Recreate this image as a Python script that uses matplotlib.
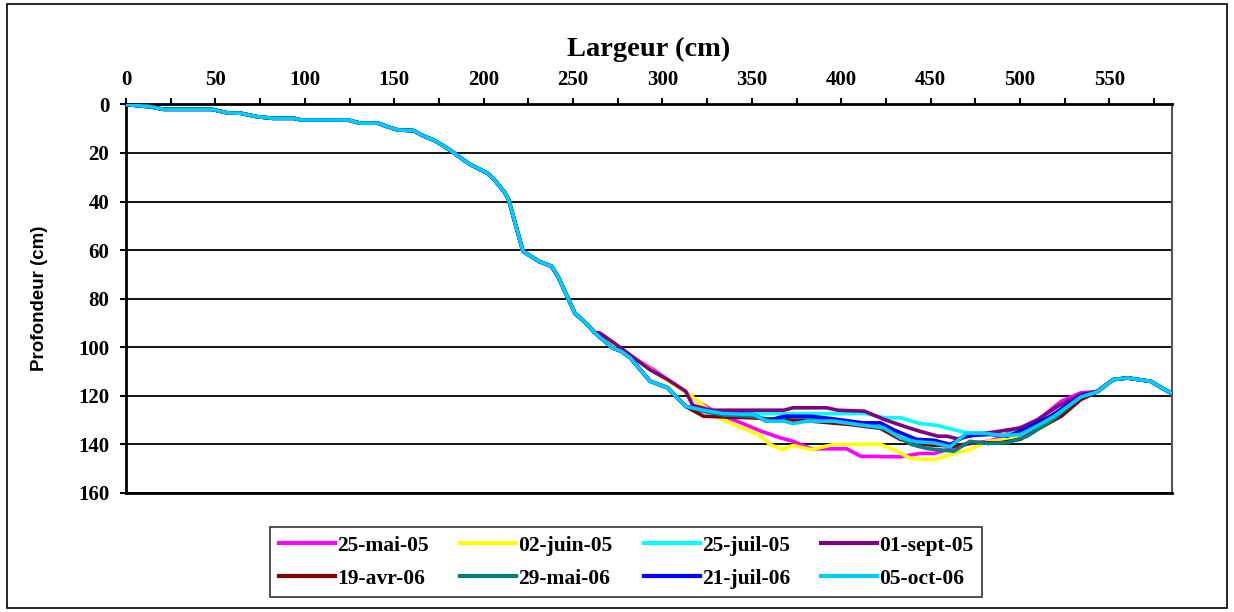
import numpy as np
import matplotlib
matplotlib.use('Agg')
import matplotlib.pyplot as plt
from matplotlib.patches import Rectangle
from matplotlib.ticker import MultipleLocator

# Profil commun (rive gauche, identique pour tous les relevés)
x_debut = [0, 14, 21, 48, 57, 64, 73, 82, 94, 98, 124, 131, 141, 146, 152, 161, 165, 173,
           181, 190, 193, 202, 206, 212, 214, 222, 231, 238, 242, 251, 258, 262]
y_debut = [0, 1, 2, 2, 3.5, 3.6, 5, 5.7, 5.7, 6.4, 6.4, 7.7, 7.7, 9.1, 10.5, 10.8, 12.5, 15,
           18.7, 23.5, 24.9, 28.3, 31, 36.5, 39.3, 60.5, 64.7, 66.7, 71.5, 86, 90.7, 94]

# Profil commun (rive droite)
x_fin = [552, 560, 573, 584]
y_fin = [113.4, 112.7, 114.1, 118.8]

# Partie centrale de chaque relevé
x_25mai05 = [266, 273, 284, 295, 303, 313, 321, 332, 344, 355, 366, 373, 383, 403, 411, 433,
             444, 452, 463, 472, 482, 489, 496, 502, 508, 523, 534, 543]
y_25mai05 = [95, 99, 104.5, 109.3, 113.5, 118.5, 123, 127.8, 131.2, 134.6, 137.4, 138.8, 141.9,
             141.9, 145, 145.2, 143.8, 143.8, 141.5, 139.7, 138.8, 137.4, 134, 133, 131.2, 122.3,
             118.8, 118.5]

x_02juin05 = [266, 273, 284, 295, 303, 315, 321, 331, 340, 349, 355, 360, 367, 373, 383, 396,
              422, 429, 439, 452, 463, 472, 482, 493, 504, 515, 526, 534, 543]
y_02juin05 = [95, 99, 104.5, 110, 114, 119.5, 123, 129.1, 131.9, 134.6, 136.7, 140.1, 142.2,
              140.5, 142.2, 140.1, 140.1, 142.2, 145.9, 146.3, 143.8, 142.2, 138.8, 138, 136.5,
              132, 126, 121, 118.5]

x_25juil05 = [272, 277, 282, 293, 303, 313, 323, 334, 351, 358, 414, 424, 433, 444, 454, 461,
              470, 480, 491, 502, 511, 519, 534, 543]
y_25juil05 = [100.3, 101.7, 104.4, 114, 116.8, 124.4, 126, 127, 127.4, 127.4, 127.4, 129.1,
              129.1, 131.5, 132.3, 133.7, 135.3, 135.4, 136.4, 134, 131, 127.5, 120.5, 118.5]

x_01sept05 = [265, 273, 293, 303, 313, 317, 327, 368, 373, 392, 398, 413, 424, 435, 444, 454,
              459, 465, 476, 489, 500, 510, 521, 534, 543]
y_01sept05 = [94.2, 98.3, 109.3, 113.4, 118.2, 124, 126, 126, 125, 125, 126, 126.4, 129.8,
              132.6, 134.7, 136.7, 136.7, 137.8, 136, 134.6, 133.3, 129.8, 124.4, 119.5, 118.2]

x_19avr06 = [272, 277, 282, 293, 303, 313, 323, 349, 383, 405, 422, 433, 444, 463, 474, 489,
             500, 511, 523, 534, 543]
y_19avr06 = [100.3, 101.7, 104.4, 114, 116.8, 124.4, 128.5, 129.1, 130.5, 131.9, 133.5, 138,
             140.1, 140.8, 139.4, 139.4, 138, 133.3, 128.5, 121.6, 118.5]

x_29mai06 = [272, 277, 282, 293, 303, 313, 323, 334, 351, 358, 364, 370, 383, 396, 412, 422,
             429, 439, 448, 463, 472, 482, 493, 504, 519, 534, 543]
y_29mai06 = [100.3, 101.7, 104.4, 114, 116.8, 124.4, 126.5, 128, 128.5, 129.8, 129.5, 128.5,
             129.1, 130.5, 131.9, 133, 135.3, 140.1, 141.8, 142.9, 138.8, 139.7, 139.4, 136.7,
             129.5, 120.5, 118.5]

x_21juil06 = [272, 277, 282, 293, 303, 313, 323, 334, 351, 358, 368, 383, 396, 412, 422, 429,
              442, 452, 461, 470, 483, 493, 502, 517, 534, 543]
y_21juil06 = [100.3, 101.7, 104.4, 114, 116.8, 124.4, 126, 127.4, 127.8, 130.5, 128.5, 128.5,
              129.6, 131.2, 131.2, 134, 138, 138.4, 140.1, 136.5, 136, 136.7, 134, 128.5, 120,
              118.5]

x_05oct06 = [272, 277, 282, 293, 303, 313, 323, 334, 351, 358, 368, 373, 381, 396, 409, 424,
             433, 442, 452, 461, 470, 480, 491, 500, 511, 519, 534, 543]
y_05oct06 = [100.3, 101.7, 104.4, 114, 116.8, 124.4, 126, 127.4, 127.8, 130.5, 130.5, 131.5,
             130.5, 130.5, 131.9, 133.3, 137.4, 139, 139.5, 141, 135.5, 135.5, 136.5, 136, 131.9,
             128.5, 120.5, 118.5]

dates = ['25-mai-05', '02-juin-05', '25-juil-05', '01-sept-05',
         '19-avr-06', '29-mai-06', '21-juil-06', '05-oct-06']
couleurs = ['#FF00FF', '#FFFF00', '#00FFFF', '#800080',
            '#800000', '#008080', '#0000FF', '#00CCFF']
milieux = [(x_25mai05, y_25mai05), (x_02juin05, y_02juin05), (x_25juil05, y_25juil05),
           (x_01sept05, y_01sept05), (x_19avr06, y_19avr06), (x_29mai06, y_29mai06),
           (x_21juil06, y_21juil06), (x_05oct06, y_05oct06)]

fig = plt.figure(figsize=(12.34, 6.12), dpi=100)
ax = fig.add_axes([0.1021, 0.1949, 0.8477, 0.6344])

lignes = []
for date, c, (xm, ym) in zip(dates, couleurs, milieux):
    xs = x_debut + xm + x_fin
    ys = y_debut + ym + y_fin
    l, = ax.plot(xs, ys, color=c, linewidth=2.6, label=date, zorder=3, solid_joinstyle='round')
    lignes.append(l)

ax.set_xlim(0, 585)
ax.set_ylim(160, 0)

# axe des x en haut
ax.xaxis.tick_top()
ax.xaxis.set_label_position('top')
ax.xaxis.set_major_locator(MultipleLocator(50))
ax.xaxis.set_minor_locator(MultipleLocator(25))
ax.yaxis.set_major_locator(MultipleLocator(20))

police_serif = 'Liberation Serif'
ax.tick_params(axis='x', which='both', direction='out', length=4.5, width=1.5,
               pad=6, top=True, bottom=False)
ax.tick_params(axis='y', direction='out', length=4, width=1.5, pad=8)
for lab in ax.get_xticklabels() + ax.get_yticklabels():
    lab.set_fontfamily(police_serif)
    lab.set_fontweight('bold')
    lab.set_fontsize(15)

ax.set_xlabel('Largeur (cm)', fontfamily=police_serif, fontweight='bold', fontsize=20.5,
              labelpad=10)
ax.set_ylabel('Profondeur (cm)', fontfamily='Liberation Sans', fontweight='bold',
              fontsize=13.5, labelpad=22)

ax.grid(axis='y', color='black', linewidth=1.3, zorder=1)
ax.set_axisbelow(True)
for s in ['left', 'top', 'bottom']:
    ax.spines[s].set_linewidth(2)
    ax.spines[s].set_color('black')
ax.spines['right'].set_linewidth(1.5)
ax.spines['right'].set_color('#555555')

# légende remplie ligne par ligne (matplotlib remplit par colonne)
ordre = [0, 4, 1, 5, 2, 6, 3, 7]
leg = fig.legend([lignes[i] for i in ordre], [dates[i] for i in ordre],
                 loc='upper center', bbox_to_anchor=(0.5075, 0.139),
                 borderaxespad=0, ncol=4, frameon=True, fancybox=False,
                 handlelength=2.6, handletextpad=0.1, labelspacing=0.6,
                 borderpad=0.4, columnspacing=1.45,
                 prop={'family': police_serif, 'weight': 'bold', 'size': 15.5})
leg.get_frame().set_edgecolor('black')
leg.get_frame().set_linewidth(1.2)
for ligne in leg.get_lines():
    ligne.set_linewidth(3)

# cadre du graphique
fig.patches.append(Rectangle((0.006, 0.007), 0.988, 0.986, transform=fig.transFigure,
                             fill=False, edgecolor='black', linewidth=1.2))

fig.savefig('out.png', dpi=100)
